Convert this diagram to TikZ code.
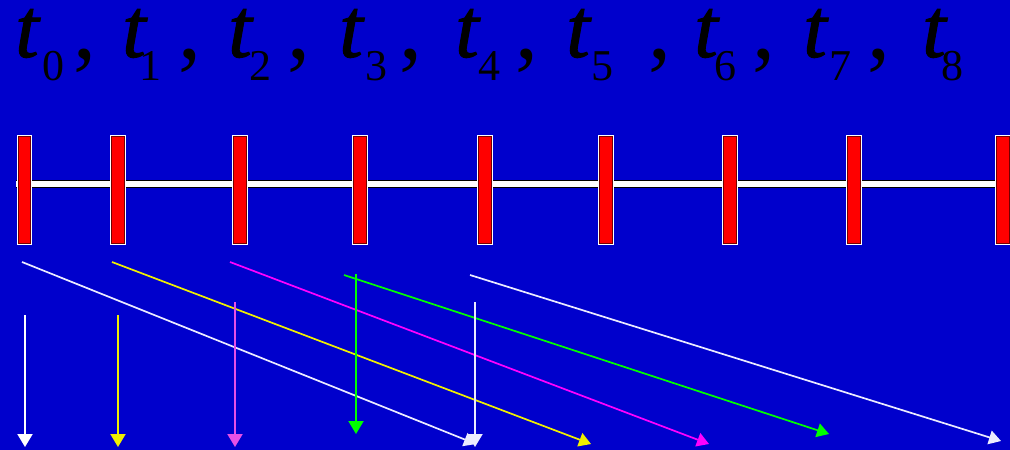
\documentclass[tikz,border=0pt]{standalone}
\usepackage{fontspec}
\setmainfont{Liberation Serif}
\newfontface\tface[FakeBold=1.2]{Liberation Serif Italic}
\usetikzlibrary{arrows.meta}
\definecolor{bg}{RGB}{0,0,204}
\definecolor{lav}{RGB}{235,235,255}
\definecolor{ylw}{RGB}{240,240,0}
\definecolor{mag}{RGB}{255,0,255}
\definecolor{vmag}{RGB}{230,80,230}
\definecolor{grn}{RGB}{0,255,0}
\begin{document}
\begin{tikzpicture}[x=1pt,y=-1pt,
  tlab/.style={font=\fontsize{85}{85}\selectfont\tface, inner sep=0pt, anchor=base, text=black},
  sublab/.style={font=\fontsize{44}{44}\selectfont, inner sep=0pt, anchor=base, text=black},
  commalab/.style={font=\fontsize{92}{92}\selectfont, inner sep=0pt, anchor=base, text=black},
  tickbar/.style={fill=red, draw=red!45!black, line width=0.8pt, minimum width=12.5pt, minimum height=107.5pt, inner sep=0pt,
    preaction={draw=white, line width=3pt}},
  diag/.style={line width=1.7pt, -{Triangle[length=12pt,width=14pt]}},
  vert/.style={line width=2pt, -{Triangle[length=13pt,width=15pt]}}
]
\useasboundingbox (0,0) rectangle (1010,450);
\fill[bg] (0,0) rectangle (1010,450);

% labels
\node[tlab] (t0) at (27,57) {t};
\node[sublab] (s0) at (53,80) {0};
\node[commalab] (c0) at (85,58) {,};
\node[tlab] (t1) at (134,57) {t};
\node[sublab] (s1) at (150,80) {1};
\node[commalab] (c1) at (190,58) {,};
\node[tlab] (t2) at (240,57) {t};
\node[sublab] (s2) at (260,80) {2};
\node[commalab] (c2) at (299,58) {,};
\node[tlab] (t3) at (351,57) {t};
\node[sublab] (s3) at (376,80) {3};
\node[commalab] (c3) at (411,58) {,};
\node[tlab] (t4) at (467,57) {t};
\node[sublab] (s4) at (489,80) {4};
\node[commalab] (c4) at (527,58) {,};
\node[tlab] (t5) at (578,57) {t};
\node[sublab] (s5) at (602,80) {5};
\node[commalab] (c5) at (660,58) {,};
\node[tlab] (t6) at (706,57) {t};
\node[sublab] (s6) at (725,80) {6};
\node[commalab] (c6) at (764,58) {,};
\node[tlab] (t7) at (815,57) {t};
\node[sublab] (s7) at (840,80) {7};
\node[commalab] (c7) at (879,58) {,};
\node[tlab] (t8) at (934,57) {t};
\node[sublab] (s8) at (952,80) {8};

% time line
\coordinate (L0) at (16,184);
\coordinate (L8) at (1000,184);
\draw[line width=8.5pt, black] (L0) -- (L8);
\draw[line width=6pt, white] (L0) -- (L8);

% bars
\foreach \i/\x in {0/24.5,1/118,2/240,3/360,4/485,5/606,6/730,7/854,8/1003}
  \node[tickbar] (b\i) at (\x,190) {};

% diagonal arrows
\coordinate (d1s) at (22,262);  \coordinate (d1e) at (476,444);
\coordinate (d2s) at (112,262); \coordinate (d2e) at (591,444);
\coordinate (d3s) at (230,262); \coordinate (d3e) at (709,444);
\coordinate (d4s) at (344,275); \coordinate (d4e) at (829,434);
\coordinate (d5s) at (470,275); \coordinate (d5e) at (1001,441);
\draw[diag, lav] (d1s) -- (d1e);
\draw[diag, ylw] (d2s) -- (d2e);
\draw[diag, mag] (d3s) -- (d3e);
\draw[diag, grn] (d4s) -- (d4e);
\draw[diag, lav] (d5s) -- (d5e);

% vertical arrows
\coordinate (v1s) at (25,315);  \coordinate (v1e) at (25,447);
\coordinate (v2s) at (118,315); \coordinate (v2e) at (118,447);
\coordinate (v3s) at (235,302); \coordinate (v3e) at (235,447);
\coordinate (v4s) at (356,274); \coordinate (v4e) at (356,434);
\coordinate (v5s) at (475,302); \coordinate (v5e) at (475,447);
\draw[vert, white] (v1s) -- (v1e);
\draw[vert, ylw] (v2s) -- (v2e);
\draw[vert, vmag] (v3s) -- (v3e);
\draw[vert, grn] (v4s) -- (v4e);
\draw[vert, lav] (v5s) -- (v5e);
\end{tikzpicture}
\end{document}
